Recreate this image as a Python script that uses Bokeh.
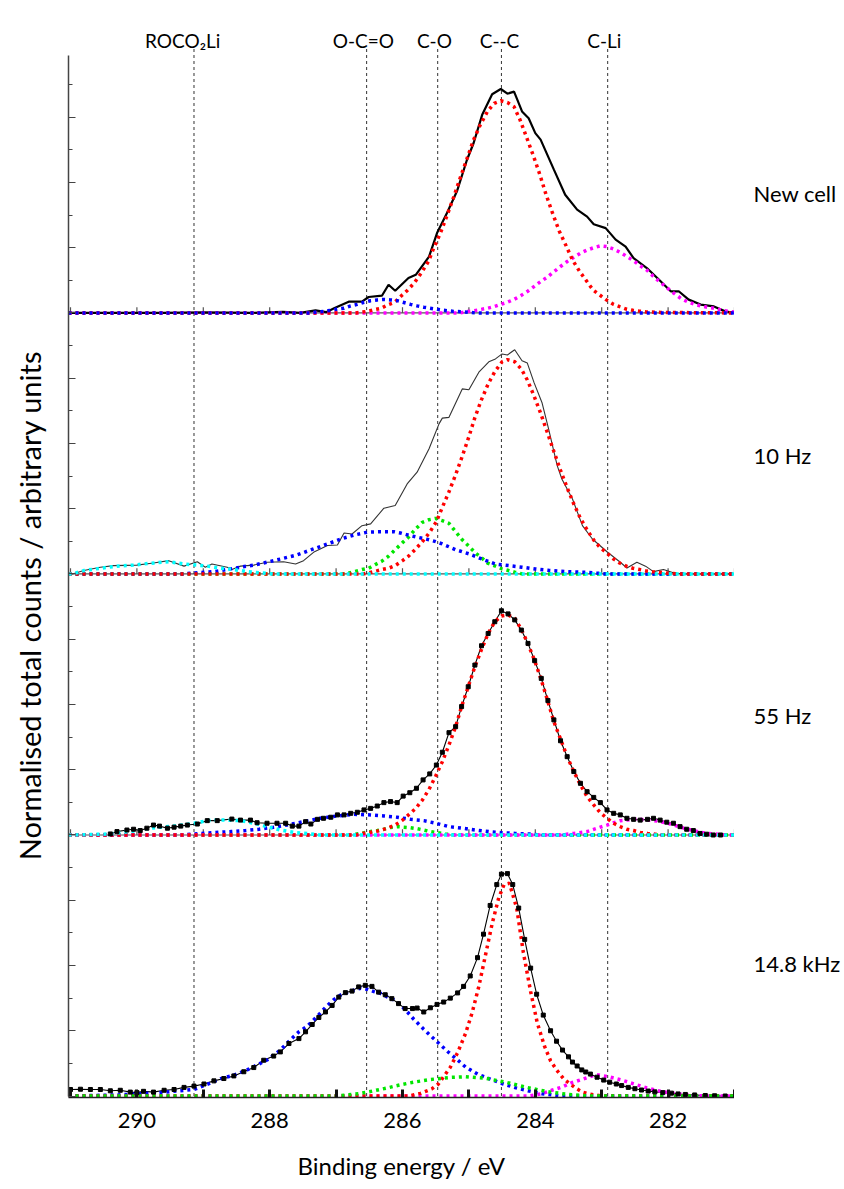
import math
from bokeh.plotting import figure
from bokeh.models import Range1d, FixedTicker
from bokeh.layouts import row
from bokeh.core.properties import value
from bokeh.embed import file_html
from bokeh.resources import INLINE

FONT = "Lato"

# ---------------- data ----------------
LINE_NAMES = ["ROCO\u2082Li", "O-C=O", "C-O", "C--C", "C-Li"]
LINE_EV = [289.14, 286.54, 285.47, 284.51, 282.91]
LABEL_EV = [289.31, 286.59, 285.52, 284.54, 282.96]

PANEL_NAMES = ["New cell", "10 Hz", "55 Hz", "14.8 kHz"]
Y_TITLE = "Normalised total counts / arbitrary units"
X_TITLE = "Binding energy / eV"
X_MAJOR = [282, 284, 286, 288, 290]
X_MINOR = [281, 283, 285, 287, 289, 291]
X_ALL = [281, 282, 283, 284, 285, 286, 287, 288, 289, 290, 291]

# --- New cell ---
NEW_TOTAL = [(291.03, 0.0), (289.6, 0.0), (289.0, 0.002), (288.3, 0.0), (287.8, 0.004), (287.54, 0.0),
             (287.31, 0.010), (287.15, 0.003), (287.03, 0.018), (286.81, 0.043), (286.61, 0.043),
             (286.51, 0.061), (286.31, 0.066), (286.21, 0.108), (286.11, 0.085), (285.91, 0.134),
             (285.80, 0.146), (285.60, 0.216), (285.48, 0.306), (285.33, 0.383), (285.18, 0.466),
             (285.03, 0.586), (284.93, 0.650), (284.80, 0.759), (284.65, 0.838), (284.52, 0.858),
             (284.42, 0.840), (284.32, 0.848), (284.20, 0.772), (284.10, 0.746), (284.00, 0.689),
             (283.92, 0.664), (283.72, 0.549), (283.55, 0.453), (283.37, 0.396), (283.22, 0.369),
             (283.12, 0.340), (282.94, 0.325), (282.79, 0.281), (282.64, 0.254), (282.52, 0.210),
             (282.32, 0.172), (282.14, 0.128), (281.96, 0.083), (281.84, 0.083), (281.69, 0.051),
             (281.51, 0.032), (281.31, 0.025), (281.14, 0.006), (281.0, 0.0)]
NEW_CC = [(291.03, 0.0), (286.7, 0.0), (286.53, 0.006), (286.42, 0.013), (286.32, 0.018), (286.22, 0.031),
          (286.12, 0.040), (286.02, 0.065), (285.92, 0.088), (285.82, 0.116), (285.72, 0.152),
          (285.61, 0.197), (285.53, 0.248), (285.43, 0.305), (285.33, 0.373), (285.23, 0.443),
          (285.13, 0.518), (285.03, 0.590), (284.93, 0.663), (284.83, 0.720), (284.72, 0.772),
          (284.62, 0.803), (284.52, 0.813), (284.42, 0.806), (284.32, 0.790), (284.23, 0.740),
          (284.13, 0.672), (284.03, 0.603), (283.93, 0.529), (283.84, 0.455), (283.74, 0.382),
          (283.64, 0.314), (283.53, 0.254), (283.44, 0.203), (283.33, 0.158), (283.23, 0.123),
          (283.13, 0.088), (283.03, 0.069), (282.93, 0.050), (282.83, 0.034), (282.73, 0.024),
          (282.63, 0.015), (282.53, 0.010), (282.43, 0.007), (282.33, 0.004), (282.11, 0.002), (281.0, 0.0)]
NEW_CLI = [(291.03, 0.0), (285.13, 0.0), (285.03, 0.005), (284.93, 0.008), (284.83, 0.013), (284.72, 0.018),
           (284.62, 0.024), (284.52, 0.033), (284.42, 0.041), (284.32, 0.052), (284.22, 0.066),
           (284.12, 0.082), (284.02, 0.101), (283.92, 0.120), (283.82, 0.137), (283.72, 0.158),
           (283.62, 0.178), (283.52, 0.197), (283.42, 0.213), (283.32, 0.229), (283.22, 0.241),
           (283.12, 0.250), (283.02, 0.257), (282.92, 0.254), (282.82, 0.245), (282.72, 0.232),
           (282.62, 0.216), (282.52, 0.200), (282.42, 0.181), (282.31, 0.162), (282.21, 0.137),
           (282.11, 0.116), (282.01, 0.095), (281.91, 0.075), (281.81, 0.056), (281.71, 0.043),
           (281.61, 0.034), (281.51, 0.027), (281.41, 0.022), (281.31, 0.018), (281.16, 0.009), (281.0, 0.003)]
NEW_OCO = [(291.03, 0.0), (287.4, 0.0), (287.28, 0.004), (287.19, 0.006), (287.08, 0.010), (286.98, 0.015),
           (286.88, 0.018), (286.78, 0.027), (286.68, 0.033), (286.58, 0.041), (286.48, 0.047),
           (286.38, 0.050), (286.28, 0.052), (286.18, 0.050), (286.08, 0.047), (285.98, 0.040),
           (285.88, 0.033), (285.78, 0.027), (285.68, 0.022), (285.53, 0.016), (285.38, 0.010),
           (285.23, 0.006), (285.08, 0.004), (284.9, 0.0), (281.0, 0.0)]

# --- 10 Hz ---
HZ10_TOTAL = [(291.03, 0.0), (290.97, 0.0), (290.80, 0.013), (290.55, 0.026), (290.35, 0.032), (290.0, 0.034),
              (289.75, 0.042), (289.52, 0.051), (289.29, 0.030), (289.09, 0.047), (288.97, 0.026),
              (288.87, 0.038), (288.64, 0.026), (288.57, 0.017), (288.44, 0.030), (288.24, 0.034),
              (288.04, 0.045), (287.79, 0.047), (287.61, 0.038), (287.49, 0.051), (287.34, 0.083),
              (287.13, 0.109), (286.98, 0.111), (286.88, 0.157), (286.76, 0.153), (286.61, 0.185),
              (286.48, 0.192), (286.28, 0.252), (286.11, 0.262), (285.93, 0.345), (285.78, 0.390),
              (285.60, 0.480), (285.45, 0.575), (285.40, 0.597), (285.30, 0.600), (285.10, 0.709),
              (285.00, 0.706), (284.85, 0.773), (284.70, 0.813), (284.60, 0.824), (284.50, 0.843),
              (284.42, 0.839), (284.31, 0.859), (284.20, 0.817), (284.12, 0.808), (284.02, 0.734),
              (283.90, 0.657), (283.80, 0.556), (283.67, 0.415), (283.60, 0.364), (283.44, 0.287),
              (283.29, 0.185), (283.14, 0.134), (282.92, 0.085), (282.72, 0.045), (282.62, 0.023),
              (282.47, 0.045), (282.34, 0.030), (282.22, 0.009), (282.07, 0.017), (281.91, 0.004),
              (281.76, 0.0), (281.0, 0.0)]
HZ10_CC = [(291.03, 0.0), (286.6, 0.0), (286.51, 0.004), (286.41, 0.010), (286.31, 0.017), (286.21, 0.022),
           (286.11, 0.032), (286.00, 0.051), (285.91, 0.068), (285.80, 0.096), (285.70, 0.124),
           (285.59, 0.160), (285.49, 0.200), (285.40, 0.255), (285.30, 0.315), (285.20, 0.380),
           (285.10, 0.451), (285.00, 0.526), (284.91, 0.599), (284.81, 0.668), (284.71, 0.728),
           (284.61, 0.775), (284.50, 0.813), (284.42, 0.821), (284.31, 0.813), (284.21, 0.785),
           (284.12, 0.743), (284.02, 0.683), (283.92, 0.616), (283.82, 0.543), (283.72, 0.469),
           (283.62, 0.397), (283.52, 0.330), (283.42, 0.268), (283.32, 0.213), (283.22, 0.169),
           (283.12, 0.130), (283.02, 0.100), (282.92, 0.080), (282.82, 0.057), (282.73, 0.042),
           (282.63, 0.030), (282.53, 0.022), (282.43, 0.017), (282.32, 0.011), (282.22, 0.008),
           (282.11, 0.006), (282.02, 0.003), (281.81, 0.0), (281.0, 0.0)]
HZ10_CO = [(291.03, 0.0), (286.85, 0.0), (286.71, 0.010), (286.61, 0.017), (286.51, 0.022), (286.41, 0.036),
           (286.31, 0.049), (286.21, 0.068), (286.11, 0.093), (286.00, 0.120), (285.91, 0.141),
           (285.80, 0.173), (285.70, 0.198), (285.60, 0.208), (285.50, 0.213), (285.40, 0.204),
           (285.30, 0.194), (285.20, 0.162), (285.10, 0.131), (285.00, 0.106), (284.90, 0.080),
           (284.80, 0.060), (284.72, 0.042), (284.60, 0.030), (284.50, 0.019), (284.40, 0.013),
           (284.30, 0.006), (284.19, 0.0), (281.0, 0.0)]
HZ10_OCO = [(291.03, 0.0), (289.3, 0.0), (289.14, 0.004), (288.84, 0.009), (288.64, 0.017), (288.44, 0.026),
            (288.24, 0.034), (288.04, 0.045), (287.84, 0.057), (287.59, 0.073), (287.34, 0.096),
            (287.13, 0.115), (286.93, 0.134), (286.73, 0.149), (286.53, 0.160), (286.33, 0.162),
            (286.13, 0.162), (286.03, 0.157), (285.93, 0.150), (285.80, 0.142), (285.60, 0.131),
            (285.50, 0.124), (285.40, 0.115), (285.20, 0.093), (285.00, 0.077), (284.80, 0.057),
            (284.60, 0.038), (284.40, 0.032), (284.20, 0.026), (284.00, 0.019), (283.80, 0.014),
            (283.52, 0.009), (283.22, 0.006), (282.92, 0.0), (281.0, 0.0)]
HZ10_ROCO = [(291.03, 0.0), (290.97, 0.0), (290.80, 0.013), (290.55, 0.022), (290.30, 0.030), (290.05, 0.034),
             (289.80, 0.041), (289.52, 0.047), (289.29, 0.038), (289.09, 0.034), (288.94, 0.030),
             (288.74, 0.022), (288.54, 0.017), (288.34, 0.009), (288.14, 0.004), (287.94, 0.0), (281.0, 0.0)]

# --- 55 Hz ---
HZ55_TOTAL = [(290.40, 0.004), (290.30, 0.013), (290.15, 0.019), (290.05, 0.022), (289.95, 0.017),
              (289.85, 0.026), (289.75, 0.038), (289.66, 0.034), (289.54, 0.026), (289.44, 0.030),
              (289.34, 0.034), (289.24, 0.038), (289.09, 0.042), (288.94, 0.055), (288.79, 0.055),
              (288.57, 0.061), (288.44, 0.057), (288.29, 0.057), (288.19, 0.047), (288.04, 0.045),
              (287.89, 0.045), (287.76, 0.045), (287.66, 0.034), (287.56, 0.034), (287.46, 0.051),
              (287.38, 0.042), (287.28, 0.060), (287.19, 0.064), (287.08, 0.068), (286.98, 0.077),
              (286.88, 0.077), (286.78, 0.083), (286.68, 0.087), (286.58, 0.096), (286.48, 0.102),
              (286.38, 0.111), (286.28, 0.124), (286.18, 0.128), (286.08, 0.124), (285.99, 0.149),
              (285.89, 0.162), (285.79, 0.179), (285.69, 0.211), (285.59, 0.234), (285.49, 0.268),
              (285.40, 0.317), (285.30, 0.392), (285.20, 0.415), (285.11, 0.492), (285.01, 0.568),
              (284.91, 0.651), (284.81, 0.725), (284.71, 0.772), (284.61, 0.817), (284.51, 0.859),
              (284.41, 0.847), (284.31, 0.824), (284.21, 0.785), (284.11, 0.734), (284.01, 0.668),
              (283.91, 0.600), (283.81, 0.515), (283.72, 0.441), (283.62, 0.361), (283.52, 0.300),
              (283.42, 0.243), (283.32, 0.198), (283.22, 0.166), (283.12, 0.144), (283.02, 0.124),
              (282.92, 0.096), (282.82, 0.083), (282.72, 0.077), (282.62, 0.064), (282.52, 0.060),
              (282.42, 0.057), (282.31, 0.060), (282.22, 0.064), (282.12, 0.057), (282.02, 0.049),
              (281.92, 0.045), (281.82, 0.032), (281.72, 0.022), (281.62, 0.017), (281.52, 0.006),
              (281.42, 0.003), (281.32, 0.0), (281.21, 0.0)]
HZ55_CC = [(291.03, 0.0), (286.7, 0.0), (286.61, 0.006), (286.51, 0.009), (286.41, 0.013), (286.31, 0.019),
           (286.21, 0.028), (286.11, 0.038), (286.00, 0.057), (285.91, 0.077), (285.80, 0.102),
           (285.70, 0.134), (285.60, 0.175), (285.50, 0.226), (285.40, 0.281), (285.30, 0.345),
           (285.20, 0.415), (285.11, 0.492), (285.01, 0.568), (284.91, 0.645), (284.81, 0.711),
           (284.71, 0.772), (284.61, 0.817), (284.51, 0.839), (284.41, 0.843), (284.31, 0.830),
           (284.21, 0.788), (284.11, 0.732), (284.01, 0.668), (283.91, 0.594), (283.81, 0.511),
           (283.72, 0.434), (283.62, 0.368), (283.52, 0.300), (283.42, 0.243), (283.32, 0.192),
           (283.22, 0.147), (283.12, 0.115), (283.02, 0.085), (282.92, 0.064), (282.82, 0.045),
           (282.72, 0.032), (282.62, 0.022), (282.52, 0.017), (282.42, 0.010), (282.31, 0.006),
           (282.16, 0.002), (282.0, 0.0), (281.0, 0.0)]
HZ55_CLI = [(291.03, 0.0), (283.62, 0.0), (283.42, 0.006), (283.22, 0.013), (283.02, 0.030), (282.92, 0.038),
            (282.82, 0.047), (282.72, 0.055), (282.62, 0.057), (282.52, 0.060), (282.42, 0.060),
            (282.31, 0.057), (282.21, 0.055), (282.11, 0.051), (282.01, 0.045), (281.91, 0.038),
            (281.81, 0.030), (281.71, 0.022), (281.61, 0.017), (281.51, 0.010), (281.41, 0.006),
            (281.31, 0.004), (281.11, 0.0), (281.0, 0.0)]
HZ55_OCO = [(291.03, 0.0), (289.3, 0.0), (289.14, 0.004), (288.84, 0.009), (288.59, 0.013), (288.36, 0.017),
            (288.16, 0.022), (287.94, 0.030), (287.74, 0.038), (287.49, 0.051), (287.24, 0.064),
            (286.98, 0.073), (286.73, 0.079), (286.48, 0.077), (286.28, 0.073), (286.08, 0.068),
            (285.88, 0.060), (285.68, 0.055), (285.50, 0.045), (285.30, 0.032), (285.10, 0.026),
            (284.90, 0.019), (284.70, 0.013), (284.50, 0.009), (284.30, 0.006), (284.10, 0.004),
            (283.90, 0.0), (281.0, 0.0)]
HZ55_CO = [(291.03, 0.0), (286.8, 0.0), (286.63, 0.006), (286.48, 0.013), (286.38, 0.017), (286.28, 0.022),
           (286.18, 0.029), (286.08, 0.032), (285.98, 0.030), (285.88, 0.028), (285.78, 0.024),
           (285.68, 0.019), (285.58, 0.013), (285.48, 0.009), (285.35, 0.004), (285.20, 0.0), (281.0, 0.0)]
HZ55_ROCO = [(291.03, 0.0), (290.97, 0.0), (290.40, 0.004), (290.20, 0.010), (290.00, 0.017), (289.80, 0.026),
             (289.64, 0.030), (289.44, 0.034), (289.24, 0.041), (289.09, 0.047), (288.94, 0.055),
             (288.79, 0.057), (288.64, 0.057), (288.44, 0.055), (288.24, 0.045), (288.04, 0.032),
             (287.84, 0.019), (287.64, 0.010), (287.44, 0.006), (287.24, 0.0), (281.0, 0.0)]

# --- 14.8 kHz ---
KHZ_TOTAL = [(291.00, 0.025), (290.85, 0.026), (290.70, 0.025), (290.55, 0.025), (290.40, 0.020),
             (290.25, 0.022), (290.10, 0.015), (290.00, 0.013), (289.90, 0.018), (289.75, 0.015),
             (289.59, 0.022), (289.44, 0.025), (289.29, 0.033), (289.14, 0.038), (288.99, 0.046),
             (288.84, 0.058), (288.69, 0.067), (288.54, 0.077), (288.39, 0.093), (288.24, 0.109),
             (288.09, 0.137), (287.94, 0.153), (287.84, 0.169), (287.71, 0.201), (287.56, 0.220),
             (287.46, 0.246), (287.36, 0.274), (287.26, 0.301), (287.16, 0.322), (287.06, 0.347),
             (286.96, 0.379), (286.86, 0.396), (286.76, 0.402), (286.66, 0.418), (286.56, 0.424),
             (286.46, 0.420), (286.36, 0.398), (286.26, 0.388), (286.16, 0.373), (286.06, 0.354),
             (285.96, 0.335), (285.85, 0.335), (285.78, 0.337), (285.68, 0.322), (285.58, 0.338),
             (285.48, 0.351), (285.38, 0.360), (285.28, 0.375), (285.17, 0.395), (285.08, 0.420),
             (284.98, 0.460), (284.87, 0.530), (284.78, 0.620), (284.68, 0.730), (284.58, 0.810),
             (284.51, 0.850), (284.42, 0.852), (284.34, 0.810), (284.25, 0.720), (284.16, 0.600),
             (284.07, 0.490), (283.98, 0.390), (283.88, 0.310), (283.77, 0.250), (283.68, 0.210),
             (283.59, 0.176), (283.50, 0.150), (283.44, 0.130), (283.37, 0.115), (283.30, 0.100),
             (283.24, 0.092), (283.17, 0.084), (283.07, 0.072), (282.97, 0.061), (282.88, 0.053),
             (282.78, 0.046), (282.70, 0.040), (282.60, 0.033), (282.50, 0.028), (282.40, 0.023),
             (282.30, 0.019), (282.20, 0.016), (282.08, 0.013), (281.95, 0.011), (281.85, 0.008),
             (281.74, 0.006), (281.60, 0.004), (281.44, 0.002), (281.30, 0.001), (281.14, 0.0)]
KHZ_CC = [(291.03, 0.0), (285.9, 0.0), (285.73, 0.010), (285.56, 0.027), (285.46, 0.046), (285.28, 0.110),
          (285.17, 0.166), (285.05, 0.240), (284.95, 0.320), (284.85, 0.420), (284.75, 0.540),
          (284.65, 0.660), (284.55, 0.760), (284.47, 0.810), (284.39, 0.815), (284.28, 0.720),
          (284.18, 0.550), (284.07, 0.400), (283.97, 0.280), (283.86, 0.190), (283.77, 0.135),
          (283.68, 0.100), (283.57, 0.065), (283.39, 0.030), (283.29, 0.015), (283.17, 0.007),
          (283.0, 0.0), (281.0, 0.0)]
KHZ_CLI = [(291.03, 0.0), (284.1, 0.0), (283.90, 0.009), (283.74, 0.023), (283.59, 0.035), (283.44, 0.052),
           (283.28, 0.065), (283.09, 0.082), (282.90, 0.074), (282.70, 0.061), (282.51, 0.046),
           (282.32, 0.031), (282.13, 0.019), (281.89, 0.009), (281.66, 0.003), (281.4, 0.0), (281.0, 0.0)]
KHZ_OCO = [(291.03, 0.0), (290.3, 0.004), (289.7, 0.012), (289.14, 0.025), (288.94, 0.045), (288.74, 0.066),
           (288.54, 0.080), (288.34, 0.100), (288.19, 0.119), (288.04, 0.138), (287.94, 0.157),
           (287.84, 0.176), (287.74, 0.202), (287.64, 0.227), (287.56, 0.246), (287.44, 0.266),
           (287.34, 0.291), (287.24, 0.317), (287.14, 0.345), (287.04, 0.368), (286.93, 0.387),
           (286.83, 0.397), (286.73, 0.406), (286.63, 0.413), (286.53, 0.409), (286.43, 0.400),
           (286.33, 0.393), (286.23, 0.380), (286.13, 0.368), (286.03, 0.349), (285.93, 0.323),
           (285.83, 0.294), (285.68, 0.256), (285.56, 0.227), (285.48, 0.208), (285.30, 0.166),
           (285.17, 0.138), (285.05, 0.111), (284.87, 0.084), (284.68, 0.065), (284.48, 0.046),
           (284.29, 0.031), (284.09, 0.019), (283.90, 0.009), (283.6, 0.0), (281.0, 0.0)]
KHZ_CO = [(291.03, 0.0), (287.0, 0.0), (286.63, 0.010), (286.43, 0.020), (286.23, 0.031), (286.03, 0.043),
          (285.83, 0.053), (285.59, 0.063), (285.29, 0.071), (285.05, 0.074), (284.75, 0.068),
          (284.43, 0.052), (284.13, 0.033), (283.82, 0.017), (283.51, 0.006), (283.2, 0.0), (281.0, 0.0)]

RED, MAGENTA, BLUE, GREEN, CYAN = "#ff0000", "#ff00ff", "#0000ff", "#00e600", "#00ffff"

PANELS = [
    dict(offset=3, total=NEW_TOTAL, style="bold",
         comps=[(NEW_CLI, MAGENTA), (NEW_CC, RED), (NEW_OCO, BLUE)]),
    dict(offset=2, total=HZ10_TOTAL, style="thin",
         comps=[(HZ10_CO, GREEN), (HZ10_OCO, BLUE), (HZ10_CC, RED), (HZ10_ROCO, CYAN)]),
    dict(offset=1, total=HZ55_TOTAL, style="marker",
         comps=[(HZ55_CO, GREEN), (HZ55_OCO, BLUE), (HZ55_CLI, MAGENTA), (HZ55_CC, RED), (HZ55_ROCO, CYAN)]),
    dict(offset=0, total=KHZ_TOTAL, style="marker",
         comps=[(KHZ_CLI, MAGENTA), (KHZ_OCO, BLUE), (KHZ_CC, RED), (KHZ_CO, GREEN)]),
]
PANEL_LABEL_Y = [3.458, 2.454, 1.458, 0.508]

X_LEFT, X_END = 291.03, 281.0
TOP_LABEL_Y, LINE_TOP = 4.044, 4.017
Y_TITLE_POS = 1.879
Y_RANGE = Range1d(-0.0057, 4.197)
BOTTOM = 92
H = 1189

# ---------------- main figure ----------------
p = figure(width=668, height=H, x_range=Range1d(X_LEFT, X_END), y_range=Y_RANGE,
           output_backend="svg", toolbar_location=None,
           min_border_left=2, min_border_right=0, min_border_top=0, min_border_bottom=BOTTOM)
p.outline_line_color = None
p.grid.visible = False
p.background_fill_color = "white"
p.border_fill_color = "white"

xa = p.xaxis[0]
xa.ticker = FixedTicker(ticks=X_MAJOR, minor_ticks=X_MINOR)
xa.axis_line_color = "#222222"
xa.axis_line_width = 1.5
xa.major_tick_in = 8
xa.major_tick_out = 0
xa.minor_tick_in = 8
xa.minor_tick_out = 0
xa.major_tick_line_width = 3
xa.minor_tick_line_width = 3
xa.major_tick_line_color = "#111111"
xa.minor_tick_line_color = "#111111"
xa.major_label_text_font = FONT
xa.major_label_text_font_size = "22px"
xa.major_label_text_color = "black"
xa.major_label_standoff = 15
xa.axis_label = X_TITLE
xa.axis_label_text_font = FONT
xa.axis_label_text_font_size = "24px"
xa.axis_label_text_font_style = "normal"
xa.axis_label_text_color = "black"
xa.axis_label_standoff = 20

ya = p.yaxis[0]
Y_MAJOR = [i * 0.25 for i in range(16)]
Y_MINOR = [i * 0.25 + 0.125 for i in range(16)]
ya.ticker = FixedTicker(ticks=Y_MAJOR, minor_ticks=Y_MINOR)
ya.bounds = (0, 3.985)
ya.axis_line_color = "#444444"
ya.axis_line_width = 1.5
ya.major_tick_in = 7
ya.major_tick_out = 0
ya.minor_tick_in = 4
ya.minor_tick_out = 0
ya.major_tick_line_color = "#444444"
ya.minor_tick_line_color = "#444444"
ya.major_tick_line_width = 1.2
ya.minor_tick_line_width = 1.2
ya.major_label_overrides = {t: "" for t in Y_MAJOR}
ya.major_label_standoff = 0

# panel baselines with small ticks
for k in (1, 2, 3):
    p.line([X_LEFT, X_END], [k, k], line_color="#555555", line_width=1.2)
    p.segment(x0=X_ALL, y0=[k] * len(X_ALL), x1=X_ALL, y1=[k + 0.022] * len(X_ALL),
              line_color="#555555", line_width=1.2)

# vertical reference lines
p.segment(x0=LINE_EV, y0=[0] * len(LINE_EV), x1=LINE_EV, y1=[LINE_TOP] * len(LINE_EV),
          line_color="#333333", line_width=1, line_dash="3 3")


def xy(pairs, off):
    return [a for a, b in pairs], [b + off for a, b in pairs]


for panel in PANELS:
    off = panel["offset"]
    tx, ty = xy(panel["total"], off)
    if panel["style"] == "bold":
        p.line(tx, ty, line_color="black", line_width=2.2)
    elif panel["style"] == "thin":
        p.line(tx, ty, line_color="#333333", line_width=1.1)
    else:
        p.line(tx, ty, line_color="black", line_width=1.1)
    for comp, col in panel["comps"]:
        cx, cy = xy(comp, off)
        p.line(cx, cy, line_color=col, line_width=3.5, line_dash="3 4")
    if panel["style"] == "marker":
        p.scatter(tx, ty, marker="square", size=4, fill_color="black", line_color="black")

p.text(x=LABEL_EV, y=[TOP_LABEL_Y] * len(LABEL_EV), text=LINE_NAMES,
       text_font=value(FONT), text_font_size="19px", text_align="center",
       text_baseline="middle", text_color="black")

# ---------------- left strip: y-axis title ----------------
pl = figure(width=66, height=H, x_range=Range1d(0, 66), y_range=Y_RANGE,
            output_backend="svg", toolbar_location=None,
            x_axis_location=None, y_axis_location=None,
            min_border_left=0, min_border_right=0, min_border_top=0, min_border_bottom=BOTTOM)
pl.outline_line_color = None
pl.grid.visible = False
pl.text(x=[29], y=[Y_TITLE_POS], text=[Y_TITLE], angle=math.pi / 2,
        text_font=value(FONT), text_font_size="29px", text_align="center",
        text_baseline="middle", text_color="black")

# ---------------- right strip: panel names ----------------
pr = figure(width=110, height=H, x_range=Range1d(0, 110), y_range=Y_RANGE,
            output_backend="svg", toolbar_location=None,
            x_axis_location=None, y_axis_location=None,
            min_border_left=0, min_border_right=0, min_border_top=0, min_border_bottom=BOTTOM)
pr.outline_line_color = None
pr.grid.visible = False
pr.text(x=[19] * len(PANEL_NAMES), y=PANEL_LABEL_Y, text=PANEL_NAMES,
        text_font=value(FONT), text_font_size="22px", text_align="left",
        text_baseline="middle", text_color="black")

layout = row(pl, p, pr, spacing=0)
open("out.html", "w").write(file_html(layout, INLINE))
